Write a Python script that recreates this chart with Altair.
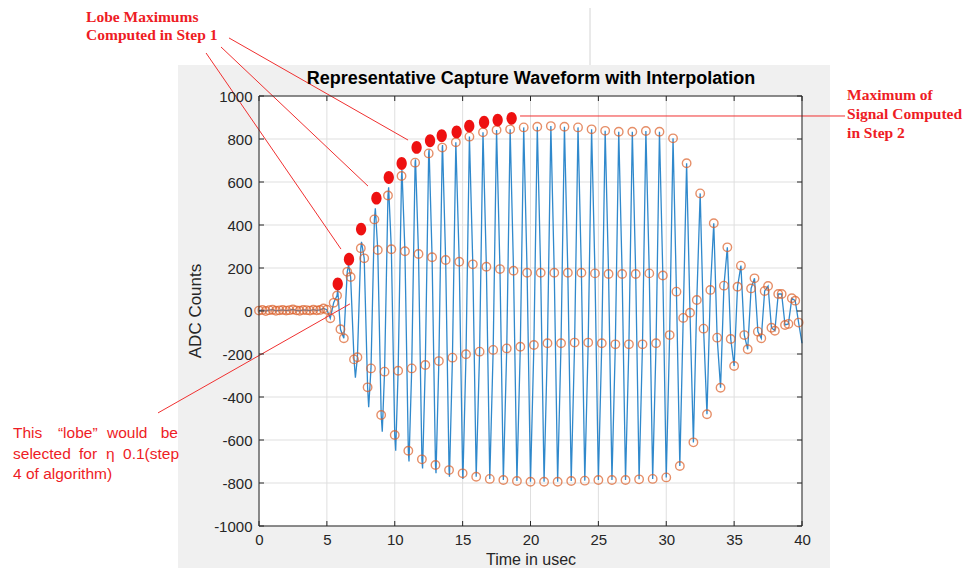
import altair as alt
import pandas as pd

# ---------------- data ----------------
SAMPLE_STEP = 0.25  # usec between ADC samples

# ADC samples (orange circles): quiet part before the burst, then the burst
quiet_samples = [2, 5, 0, 4, 6, 1, 3, 5, 2, 4, 7, 3, 1, 5, 4, 2, 6, 3]
burst_samples = [
    5, 12, 6, -34, 38, 72, -85, -127, 182, 158, -225, -215, 292, 245, -355, -267,
    426, 284, -484, -282, 537, 287, -577, -278, 628, 278, -650, -267, 690, 265,
    -690, -251, 733, 250, -716, -233, 760, 237, -740, -217, 785, 229, -755, -201,
    811, 217, -771, -189, 831, 206, -781, -181, 842, 195, -786, -174, 845, 187,
    -791, -166, 854, 178, -794, -158, 857, 178, -794, -150, 860, 178, -794, -150,
    857, 178, -791, -147, 854, 178, -789, -147, 845, 175, -786, -150, 838, 172,
    -786, -155, 834, 172, -786, -155, 834, 172, -783, -155, 837, 175, -781, -150,
    834, 165, -774, -112, 803, 90, -721, -32, 687, -8, -611, 51, 547, -82,
    -480, 98, 408, -124, -357, 118, 296, -130, -256, 113, 211, -112, -178, 105,
    152, -96, -127, 93, 116, -78, -92, 79, 79, -65, -60, 59, 48, -54,
]

# extra vertices of the interpolated (blue) trace where it overshoots the samples
interp_t = [5.8, 6.6, 7.1, 7.55, 8.08, 8.57, 9.08, 9.55, 10.07, 10.53, 11.05,
            11.53, 12.05, 12.53, 13.04, 13.52, 14.03, 15.02, 40.0]
interp_v = [100, 215, -310, 322, -448, 478, -561, 575, -650, 657, -700,
            705, -732, 751, -755, 772, -771, -781, -150]

# lobe maximums (red dots)
lobe_t = [5.8, 6.63, 7.52, 8.65, 9.56, 10.51, 11.61, 12.6, 13.46, 14.56,
          15.49, 16.58, 17.58, 18.61]
lobe_v = [126, 241, 381, 525, 621, 686, 761, 792, 815, 833, 860, 878, 888, 896]

x_ticks = [0, 5, 10, 15, 20, 25, 30, 35, 40]
y_ticks = [-1000, -800, -600, -400, -200, 0, 200, 400, 600, 800, 1000]

# annotation leader lines (data units)
ann_x1 = [-3.90, -2.80, -2.21, 19.23, -7.44]
ann_y1 = [1200, 1228, 1270, 907, -474]
ann_x2 = [6.04, 8.03, 10.98, 43.17, 6.70]
ann_y2 = [288, 581, 795, 907, 33]

# bold serif annotations
serif_text = ["Lobe Maximums", "Computed in Step 1", "Maximum of", "Signal Computed", "in Step 2"]
serif_x = [-12.74, -12.74, 43.32, 43.32, 43.32]
serif_y = [1367, 1284, 1005, 916, 828]

# sans annotation (justified block) – left aligned words
sansL_text = ["This", "\u201clobe\u201d", "would", "selected", "for", "\u03b7", "4 of algorithm)"]
sansL_x = [-18.12, -14.81, -11.20, -18.12, -13.26, -11.27, -18.12]
sansL_y = [-567, -567, -567, -665, -665, -665, -758]
# right aligned words
sansR_text = ["be", "0.1(step"]
sansR_x = [-5.97, -5.89]
sansR_y = [-567, -665]

# ---------------- tables ----------------
all_samples = quiet_samples + burst_samples
samples = pd.DataFrame({"t": [i * SAMPLE_STEP for i in range(len(all_samples))],
                        "v": all_samples})
trace = pd.concat([samples, pd.DataFrame({"t": interp_t, "v": interp_v})]).sort_values("t")
lobes = pd.DataFrame({"t": lobe_t, "v": lobe_v})
ann = pd.DataFrame({"x1": ann_x1, "y1": ann_y1, "x2": ann_x2, "y2": ann_y2})
serif = pd.DataFrame({"txt": serif_text, "t": serif_x, "v": serif_y})
sansL = pd.DataFrame({"txt": sansL_text, "t": sansL_x, "v": sansL_y})
sansR = pd.DataFrame({"txt": sansR_text, "t": sansR_x, "v": sansR_y})
xt = pd.DataFrame({"t": x_ticks})
yt = pd.DataFrame({"v": y_ticks})
one = alt.Data(values=[{"a": 1}])

W, H = 543, 430
SANS = "Liberation Sans, Arial, Helvetica"
SERIF = "Liberation Serif, Times New Roman"
RED = "#ee1c25"
AX = "#262626"

xs = alt.Scale(domain=[0, 40], nice=False, zero=False)
ys = alt.Scale(domain=[-1000, 1000], nice=False, zero=False)
xaxis = alt.Axis(values=x_ticks, title=None, grid=False, ticks=False, domain=False,
                 labelFont=SANS, labelFontSize=15, labelColor=AX, labelPadding=6,
                 labelFlush=False, labelOverlap=False, zindex=1,
                 labelExpr="'' + datum.value")
yaxis = alt.Axis(values=y_ticks, title=None, grid=False, ticks=False, domain=False,
                 labelFont=SANS, labelFontSize=15, labelColor=AX, labelPadding=7,
                 labelFlush=False, labelOverlap=False, zindex=1,
                 labelExpr="'' + datum.value")


def X(f):
    return alt.X(f + ":Q", scale=xs, axis=xaxis)


def Y(f):
    return alt.Y(f + ":Q", scale=ys, axis=yaxis)


# figure (gray) and axes (white) backgrounds
fig_bg = alt.Chart(one).mark_rect(color="#f0f0f0").encode(
    x=alt.value(-81), x2=alt.value(571), y=alt.value(-31), y2=alt.value(472))
ax_bg = alt.Chart(one).mark_rect(color="white").encode(
    x=alt.value(0), x2=alt.value(W), y=alt.value(0), y2=alt.value(H))
top_line = alt.Chart(one).mark_rule(color="#d4d4d4", strokeWidth=1).encode(
    x=alt.value(331), y=alt.value(-88), y2=alt.value(-31))

grid_x = alt.Chart(xt).mark_rule(color="#dfdfdf", strokeWidth=1).encode(
    x=X("t"), y=alt.value(0), y2=alt.value(H))
grid_y = alt.Chart(yt).mark_rule(color="#dfdfdf", strokeWidth=1).encode(
    y=Y("v"), x=alt.value(0), x2=alt.value(W))

blue = alt.Chart(trace).mark_line(color="#1a7cc6", strokeWidth=1.3, opacity=0.9).encode(
    x=X("t"), y=Y("v"), order="t:Q")
circles = alt.Chart(samples).mark_point(shape="circle", filled=False, color="#dc5f28",
                                        size=72, strokeWidth=1.4).encode(x=X("t"), y=Y("v"))
red = alt.Chart(lobes).mark_point(
    shape="M0,-1 A0.8,1 0 1,1 0,1 A0.8,1 0 1,1 0,-1 Z", filled=True, color="#ee1111",
    opacity=1, size=165).encode(x=X("t"), y=Y("v"))

ann_lines = alt.Chart(ann).mark_rule(color="#f03030", strokeWidth=1).encode(
    x=X("x1"), y=Y("y1"), x2="x2:Q", y2="y2:Q")

box = alt.Chart(one).mark_rect(fillOpacity=0, stroke=AX, strokeWidth=1).encode(
    x=alt.value(0), x2=alt.value(W), y=alt.value(0), y2=alt.value(H))
tick_l = alt.Chart(yt).mark_rule(color=AX).encode(y=Y("v"), x=alt.value(0), x2=alt.value(5))
tick_r = alt.Chart(yt).mark_rule(color=AX).encode(y=Y("v"), x=alt.value(W - 5), x2=alt.value(W))
tick_b = alt.Chart(xt).mark_rule(color=AX).encode(x=X("t"), y=alt.value(H - 5), y2=alt.value(H))
tick_t = alt.Chart(xt).mark_rule(color=AX).encode(x=X("t"), y=alt.value(0), y2=alt.value(5))

title = alt.Chart(one).mark_text(
    text="Representative Capture Waveform with Interpolation", font=SANS, fontSize=18,
    fontWeight="bold", color="black", align="center", baseline="middle").encode(
    x=alt.value(272), y=alt.value(-17))
ytitle = alt.Chart(one).mark_text(
    text="ADC Counts", font=SANS, fontSize=17, color=AX, angle=270,
    align="center", baseline="middle").encode(x=alt.value(-63), y=alt.value(215))
xtitle = alt.Chart(one).mark_text(
    text="Time in usec", font=SANS, fontSize=16, color=AX, align="center",
    baseline="alphabetic").encode(x=alt.value(272), y=alt.value(469))

serif_t = alt.Chart(serif).mark_text(font=SERIF, fontSize=15.5, fontWeight="bold", color=RED,
                                     align="left", baseline="middle").encode(
    x=X("t"), y=Y("v"), text="txt:N")
sansL_t = alt.Chart(sansL).mark_text(font=SANS, fontSize=15.5, color=RED,
                                     align="left", baseline="middle").encode(
    x=X("t"), y=Y("v"), text="txt:N")
sansR_t = alt.Chart(sansR).mark_text(font=SANS, fontSize=15.5, color=RED,
                                     align="right", baseline="middle").encode(
    x=X("t"), y=Y("v"), text="txt:N")

chart = alt.layer(
    fig_bg, ax_bg, top_line, grid_x, grid_y, blue, circles, red, ann_lines,
    box, tick_l, tick_r, tick_b, tick_t, title, ytitle, xtitle,
    serif_t, sansL_t, sansR_t,
).properties(
    width=W, height=H,
    padding={"left": 251, "top": 88, "right": 161, "bottom": 42},
    autosize=alt.AutoSizeParams(type="none"),
    background="white",
).configure_view(strokeWidth=0)

chart.save("out.html", embed_options={"renderer": "svg", "actions": False})
